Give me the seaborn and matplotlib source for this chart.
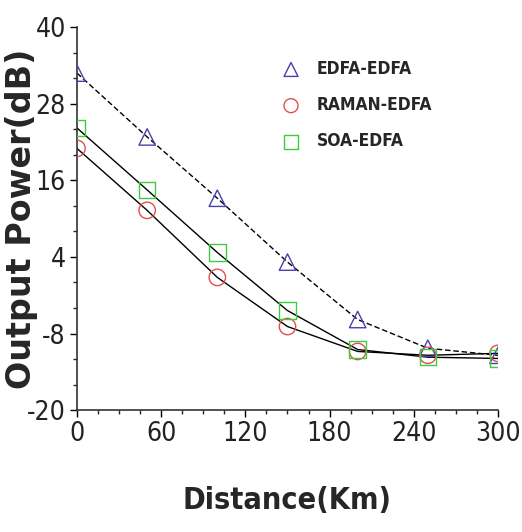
import seaborn as sns
import numpy as np
import matplotlib.pyplot as plt
import pandas as pd
from matplotlib.ticker import FixedLocator, MultipleLocator

sns.set_style("white")
plt.rcParams['font.family'] = ['DejaVu Sans']
plt.rcParams['font.stretch'] = 'condensed'
plt.rcParams['axes.unicode_minus'] = False

# Data
distance = [0, 50, 100, 150, 200, 250, 300]
edfa_edfa = [32.8, 22.8, 13.2, 3.2, -5.8, -10.3, -11.4]
raman_edfa = [21.0, 11.3, 0.8, -6.9, -10.8, -11.4, -11.1]
soa_edfa = [24.2, 14.5, 4.7, -4.4, -10.5, -11.7, -11.9]
y_ticks = [-20, -8, 4, 16, 28, 40]

series = {'EDFA-EDFA': edfa_edfa, 'RAMAN-EDFA': raman_edfa, 'SOA-EDFA': soa_edfa}
df = pd.DataFrame([{'Distance': d, 'Power': p, 'Type': name}
                   for name, vals in series.items() for d, p in zip(distance, vals)])

styles = {'EDFA-EDFA': ('^', '#4a3fb0', (0, (4, 2))),
          'RAMAN-EDFA': ('o', '#e05050', '-'),
          'SOA-EDFA': ('s', '#3ccc3c', '-')}

fig = plt.figure(figsize=(5.22, 5.32), dpi=100)
ax = fig.add_axes([0.1475, 0.229, 0.8065, 0.72])

for name, (mk, col, ls) in styles.items():
    sub = df[df['Type'] == name]
    sns.lineplot(data=sub, x='Distance', y='Power', color='black', linewidth=1.0,
                 linestyle=ls, ax=ax, legend=False)
    ax.scatter(sub['Distance'], sub['Power'], marker=mk, s=140, facecolors='none',
               edgecolors=col, linewidths=1.0, zorder=3, label=name)

ax.set_xlim(0, 300)
ax.set_ylim(-20, 40)
ax.xaxis.set_major_locator(MultipleLocator(60))
ax.xaxis.set_minor_locator(MultipleLocator(15))
ax.yaxis.set_major_locator(FixedLocator(y_ticks))
ax.yaxis.set_minor_locator(MultipleLocator(4))
ax.tick_params(axis='both', which='major', direction='out', length=5, width=1,
               labelsize=19, pad=3, colors='black')
ax.tick_params(axis='both', which='minor', direction='out', length=3, width=1)
ax.tick_params(axis='x', which='both', bottom=True)
ax.tick_params(axis='y', which='both', left=True)
for lbl in ax.get_xticklabels() + ax.get_yticklabels():
    lbl.set_color('#222222')

sns.despine(ax=ax)
for s in ['left', 'bottom']:
    ax.spines[s].set_color('#333333')
    ax.spines[s].set_linewidth(1.2)

ax.set_xlabel('Distance(Km)', fontsize=22, fontweight='bold', labelpad=28)
ax.set_ylabel('Output Power(dB)', fontsize=24, fontweight='bold', stretch='normal')
ax.yaxis.set_label_coords(-0.092, 0.5)

leg = ax.legend(loc='upper left', bbox_to_anchor=(0.43, 0.955), frameon=False,
                fontsize=12.5, handletextpad=0.5, labelspacing=1.05, markerscale=0.85)
for t in leg.get_texts():
    t.set_fontweight('bold')

fig.savefig('out.png', dpi=100)
